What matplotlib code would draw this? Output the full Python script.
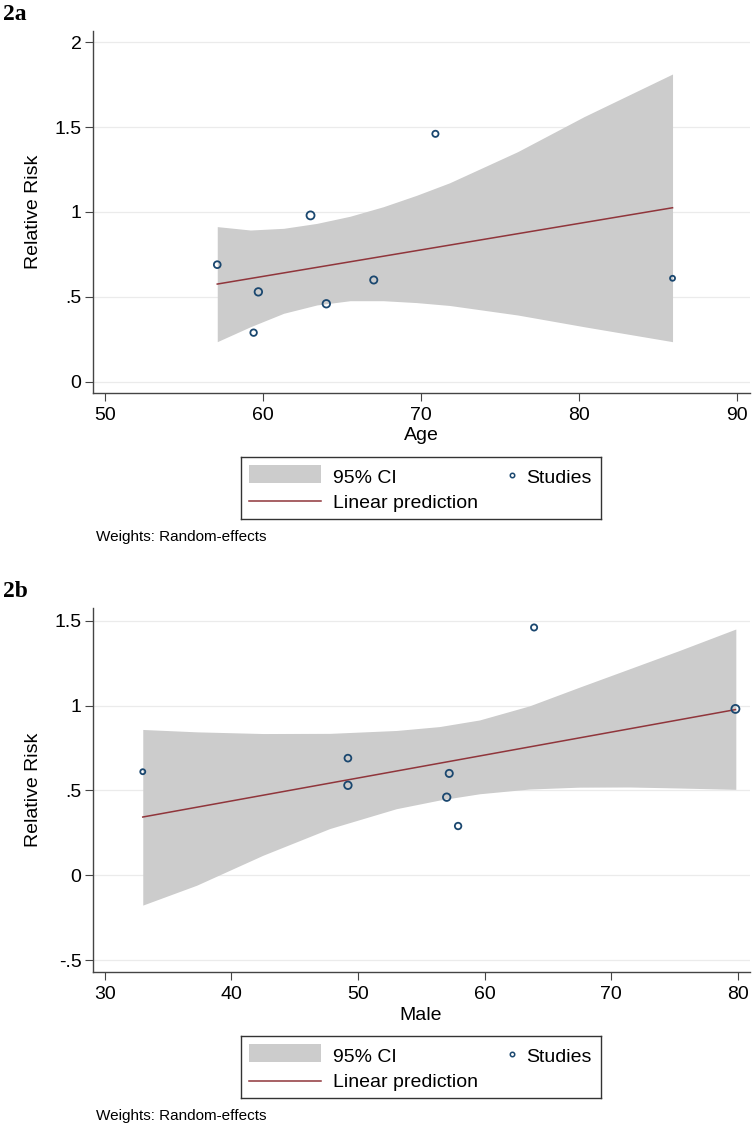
import numpy as np
import matplotlib
matplotlib.use('Agg')
import matplotlib.pyplot as plt
from matplotlib.patches import Rectangle

plt.rcParams['font.family'] = ['Liberation Sans', 'DejaVu Sans']

W, H = 753, 1127

# studies (same 8 studies in both panels)
rr = [0.69, 0.53, 0.29, 0.98, 0.46, 0.60, 1.46, 0.61]
age = [57.1, 59.7, 59.4, 63.0, 64.0, 67.0, 70.9, 85.9]
male = [49.2, 49.2, 57.9, 79.8, 57.0, 57.2, 63.9, 33.0]
wt = [7.3, 8.0, 7.0, 8.5, 8.0, 7.7, 6.7, 5.5]   # random-effects weight (marker size)

# fitted line + 95% CI, panel a
age_fit = [57.1, 85.9]
age_pred = [0.576, 1.025]
ci_age = [57.1, 59.2, 61.3, 63.4, 65.5, 67.6, 69.7, 71.8, 76.1, 80.3, 85.9]
ci_age_lo = [0.237, 0.325, 0.404, 0.453, 0.478, 0.478, 0.467, 0.450, 0.394, 0.325, 0.237]
ci_age_hi = [0.914, 0.894, 0.904, 0.933, 0.975, 1.031, 1.098, 1.172, 1.355, 1.561, 1.812]

# fitted line + 95% CI, panel b
male_fit = [33.0, 79.8]
male_pred = [0.343, 0.976]
ci_male = [33.0, 37.25, 42.5, 47.76, 53.02, 56.43, 59.59, 63.53, 67.47, 71.42, 75.36, 79.83]
ci_male_lo = [-0.176, -0.059, 0.118, 0.275, 0.392, 0.443, 0.480, 0.508, 0.519, 0.520, 0.514, 0.506]
ci_male_hi = [0.859, 0.845, 0.835, 0.836, 0.853, 0.876, 0.915, 0.998, 1.108, 1.216, 1.324, 1.451]

NAVY = '#1a476f'
MAROON = '#90353b'
CIGRAY = '#cccccc'
GRID = '#ebebeb'
AXC = '#444444'
FS = 14


def panel(top, bot, x, xfit, yfit, cix, cilo, cihi, xlim, ylim, xt, yt, ytl, xlab, tag):
    ax = fig.add_axes([93 / W, 1 - bot / H, 657 / W, (bot - top) / H])
    ax.set_axisbelow(True)
    ax.yaxis.grid(True, color=GRID, lw=0.9)
    ax.fill_between(cix, cilo, cihi, color=CIGRAY, lw=0, zorder=1)
    ax.plot(xfit, yfit, color=MAROON, lw=1.1, zorder=2)
    d = (np.array(wt) - 0.5) * 0.72
    ax.scatter(x, rr, s=d ** 2, facecolors='none', edgecolors=NAVY, linewidths=1.3, zorder=3)
    ax.set_xlim(*xlim)
    ax.set_ylim(*ylim)
    ax.set_xticks(xt)
    ax.set_yticks(yt)
    ax.set_yticklabels(ytl)
    for s in ['top', 'right']:
        ax.spines[s].set_visible(False)
    for s in ['left', 'bottom']:
        ax.spines[s].set_color(AXC)
        ax.spines[s].set_linewidth(1.0)
    ax.tick_params(axis='both', direction='out', length=5.8, width=0.8, color=AXC, labelsize=FS)
    ax.tick_params(axis='x', pad=4.0)
    ax.tick_params(axis='y', pad=2.4)
    fig.text(34 / W, 1 - (top + bot) / 2 / H, 'Relative Risk', rotation=90, ha='center', va='center', fontsize=FS)
    fig.text(421 / W, 1 - (bot + 43) / H, xlab, ha='center', va='center', fontsize=FS)
    fig.text(2.7 / W, 1 - (top - 11) / H, tag, fontsize=17, fontweight='bold',
             family='Liberation Serif', va='baseline')

    # legend
    lt = bot + 64
    lx = fig.add_axes([241 / W, 1 - (lt + 62) / H, 360 / W, 62 / H])
    lx.set_xlim(0, 360)
    lx.set_ylim(62, 0)
    lx.set_xticks([])
    lx.set_yticks([])
    for s in lx.spines.values():
        s.set_color('#333333')
        s.set_linewidth(1.0)
    lx.add_patch(Rectangle((8, 7.7), 72, 18.3, color=CIGRAY, lw=0))
    lx.plot([8, 80], [44.4, 44.4], color=MAROON, lw=1.1)
    lx.plot([270.7], [17.7], 'o', ms=3.2, mfc='none', mec=NAVY, mew=1.1)
    lx.text(92, 26, '95% CI', va='baseline', fontsize=FS)
    lx.text(92, 51, 'Linear prediction', va='baseline', fontsize=FS)
    lx.text(284.7, 26, 'Studies', va='baseline', fontsize=FS)

    fig.text(96 / W, 1 - (bot + 144) / H, 'Weights: Random-effects', va='center', fontsize=11)
    return ax


fig = plt.figure(figsize=(W / 100, H / 100), dpi=100)

panel(31, 393, age, age_fit, age_pred, ci_age, ci_age_lo, ci_age_hi,
      (49.24, 90.8), (-0.065, 2.065), [50, 60, 70, 80, 90],
      [0, 0.5, 1, 1.5, 2], ['0', '.5', '1', '1.5', '2'], 'Age', '2a')

panel(608.3, 972.3, male, male_fit, male_pred, ci_male, ci_male_lo, ci_male_hi,
      (29.07, 80.95), (-0.572, 1.573), [30, 40, 50, 60, 70, 80],
      [-0.5, 0, 0.5, 1, 1.5], ['-.5', '0', '.5', '1', '1.5'], 'Male', '2b')

fig.savefig('out.png', dpi=100)
